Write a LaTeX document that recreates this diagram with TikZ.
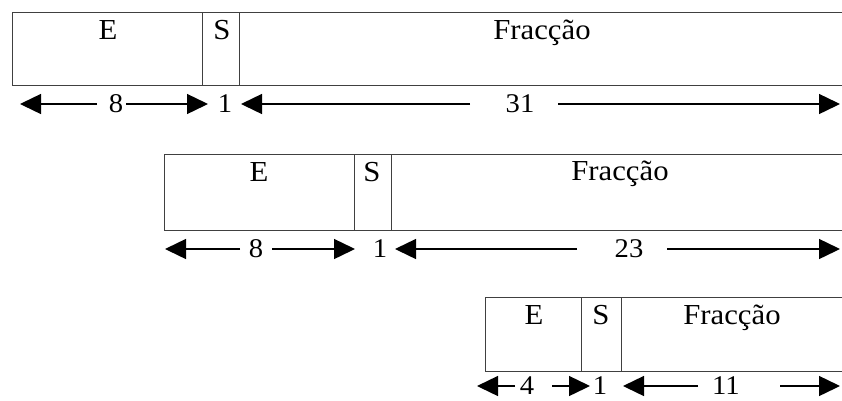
\documentclass[tikz,border=0pt]{standalone}
\usepackage{fontspec}
\setmainfont{Liberation Serif}[FakeStretch=1.06]
\usetikzlibrary{arrows.meta}
\begin{document}
\begin{tikzpicture}[x=1pt,y=-1pt,
  field/.style={draw=black!75,line width=0.9pt},
  lbl/.style={anchor=base,inner sep=0pt,font=\fontsize{29}{32}\selectfont},
  num/.style={anchor=center,inner sep=0pt,font=\fontsize{27}{29}\selectfont},
  dim/.style={draw=black,line width=1.4pt,-{Triangle[length=21pt,width=20pt]}}]
\useasboundingbox (0,0) rectangle (842,400);
\fill[white] (0,0) rectangle (842,400);

% --- 32-bit format ---
\draw[field] (842,12) -- (12,12) -- (12,85) -- (842,85);
\draw[field] (202,12) -- (202,85) (239,12) -- (239,85);
\node[lbl] (e1) at (108,39) {E};
\node[lbl] (s1) at (222,39) {S};
\node[lbl] (f1) at (542,39) {Fracção};
\coordinate (a1l) at (20,104);  \coordinate (a1le) at (97,104);
\node[num] (n1e) at (116,104) {8};
\coordinate (a1re) at (126,104); \coordinate (a1r) at (208,104);
\node[num] (n1s) at (225,104) {1};
\coordinate (b1l) at (241,104);  \coordinate (b1le) at (470,104);
\node[num] (n1f) at (520,104) {31};
\coordinate (b1re) at (558,104); \coordinate (b1r) at (840,104);
\draw[dim] (a1le) -- (a1l);
\draw[dim] (a1re) -- (a1r);
\draw[dim] (b1le) -- (b1l);
\draw[dim] (b1re) -- (b1r);

% --- 32-bit format, shorter fraction ---
\draw[field] (842,154) -- (164,154) -- (164,230) -- (842,230);
\draw[field] (354,154) -- (354,230) (391,154) -- (391,230);
\node[lbl] (e2) at (259,181) {E};
\node[lbl] (s2) at (372,181) {S};
\node[lbl] (f2) at (620,180) {Fracção};
\coordinate (a2l) at (165,249);  \coordinate (a2le) at (240,249);
\node[num] (n2e) at (256,249) {8};
\coordinate (a2re) at (272,249); \coordinate (a2r) at (355,249);
\node[num] (n2s) at (380,249) {1};
\coordinate (b2l) at (395,249);  \coordinate (b2le) at (577,249);
\node[num] (n2f) at (629,249) {23};
\coordinate (b2re) at (667,249); \coordinate (b2r) at (840,249);
\draw[dim] (a2le) -- (a2l);
\draw[dim] (a2re) -- (a2r);
\draw[dim] (b2le) -- (b2l);
\draw[dim] (b2re) -- (b2r);

% --- 16-bit format ---
\draw[field] (842,297) -- (485,297) -- (485,371) -- (842,371);
\draw[field] (581,297) -- (581,371) (621,297) -- (621,371);
\node[lbl] (e3) at (534,324) {E};
\node[lbl] (s3) at (601,324) {S};
\node[lbl] (f3) at (732,324) {Fracção};
\coordinate (a3l) at (477,386);  \coordinate (a3le) at (515,386);
\node[num] (n3e) at (527,386) {4};
\coordinate (a3re) at (552,386); \coordinate (a3r) at (590,386);
\node[num] (n3s) at (600,386) {1};
\coordinate (b3l) at (623,386);  \coordinate (b3le) at (698,386);
\node[num] (n3f) at (726,386) {11};
\coordinate (b3re) at (780,386); \coordinate (b3r) at (840,386);
\draw[dim] (a3le) -- (a3l);
\draw[dim] (a3re) -- (a3r);
\draw[dim] (b3le) -- (b3l);
\draw[dim] (b3re) -- (b3r);
\end{tikzpicture}
\end{document}
